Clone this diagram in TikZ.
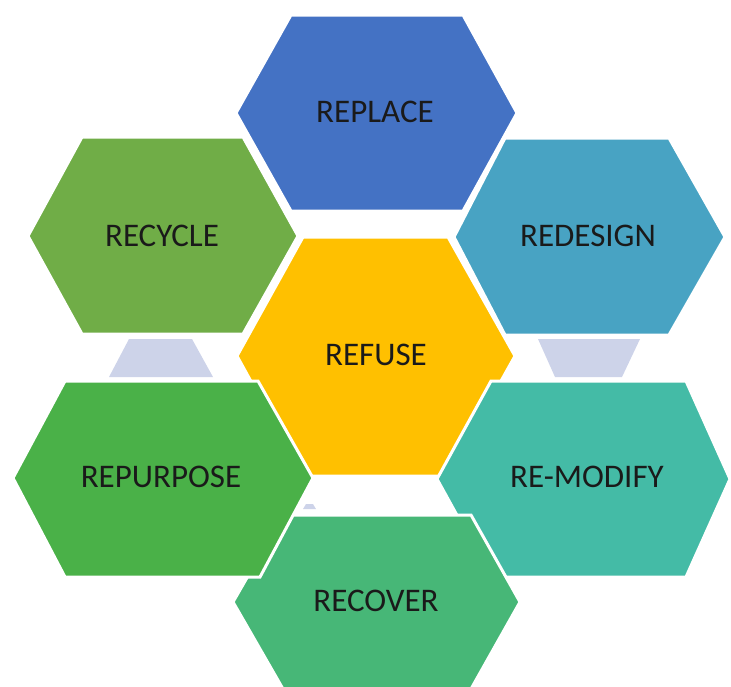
\documentclass[tikz,border=0pt]{standalone}
\usepackage{fontspec}
\setmainfont{Carlito}
\definecolor{cReplace}{HTML}{4472C4}
\definecolor{cRedesign}{HTML}{48A3C3}
\definecolor{cRecycle}{HTML}{70AD47}
\definecolor{cRefuse}{HTML}{FFC000}
\definecolor{cRepurpose}{HTML}{4AB148}
\definecolor{cRemodify}{HTML}{44BBA6}
\definecolor{cRecover}{HTML}{47B777}
\definecolor{cLav}{HTML}{CDD3E9}
\definecolor{cText}{HTML}{1A1A1A}
\begin{document}
\begin{tikzpicture}[x=1pt,y=-1pt,
  hexbox/.style={draw=white,line width=3pt,line join=miter},
  lbl/.style={text=cText,font=\fontsize{33}{36}\selectfont,inner sep=0pt}]
\useasboundingbox (0,0) rectangle (731,686);
\clip (0,0) rectangle (731,686);
% lavender background pieces
\fill[cLav] (129,339) -- (192,339) -- (213,377) -- (109,377) -- cycle;
\fill[cLav] (538,339) -- (640,339) -- (622,377) -- (555,377) -- cycle;
\fill[cLav] (306,504) -- (313,504) -- (316,509) -- (303,509) -- cycle;
% hexagons
\fill[cReplace,hexbox] (236,113) -- (291,15) -- (463,15) -- (517,113) -- (463,211) -- (291,211) -- cycle;
\fill[cRecycle,hexbox] (28,236) -- (82,137) -- (243,137) -- (298,236) -- (243,334) -- (82,334) -- cycle;
\fill[cRedesign,hexbox] (454,237) -- (505,138) -- (669,138) -- (725,237) -- (669,335) -- (505,335) -- cycle;
\fill[cRefuse,hexbox] (237,356) -- (303,237) -- (448,237) -- (515,356) -- (448,476) -- (303,476) -- cycle;
\fill[cRemodify,hexbox] (437,479) -- (491,381) -- (686,381) -- (730,479) -- (686,577) -- (491,577) -- cycle;
\fill[cRecover,hexbox] (233,602) -- (283,515) -- (471,515) -- (520,602) -- (471,689) -- (283,689) -- cycle;
\fill[cRepurpose,hexbox] (13,478) -- (65,381) -- (258,381) -- (313,478) -- (260,577) -- (65,577) -- cycle;
% labels
\node[lbl] (replace) at (375,112) {REPLACE};
\node[lbl] (recycle) at (162,236) {RECYCLE};
\node[lbl] (redesign) at (588,236) {REDESIGN};
\node[lbl] (refuse) at (376,355) {REFUSE};
\node[lbl] (repurpose) at (161,477) {REPURPOSE};
\node[lbl] (remodify) at (587,477) {RE-MODIFY};
\node[lbl] (recover) at (376,601) {RECOVER};
\end{tikzpicture}
\end{document}
